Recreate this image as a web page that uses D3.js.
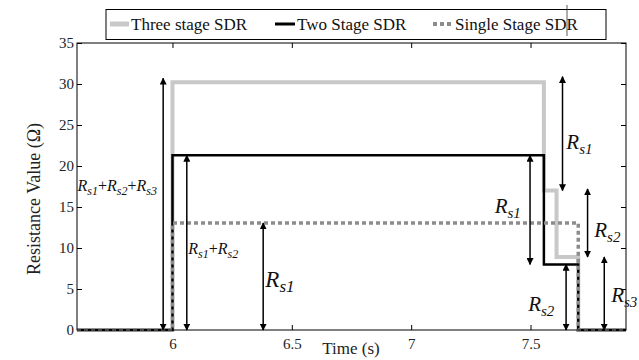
<!DOCTYPE html>
<html>
<head>
<meta charset="utf-8">
<script src="https://cdn.jsdelivr.net/npm/d3@7"></script>
<style>
  body { margin: 0; background: #fff; }
</style>
</head>
<body>
<div id="chart"></div>
<script>
// step series: [time, value] corners
var threeStage = [[5.6, 0], [6.0, 0], [6.0, 30.2], [7.556, 30.2], [7.556, 17.0], [7.609, 17.0], [7.609, 8.9], [7.7, 8.9], [7.7, 0], [7.9, 0]];
var twoStage = [[5.6, 0], [6.0, 0], [6.0, 21.3], [7.556, 21.3], [7.556, 8.0], [7.7, 8.0], [7.7, 0], [7.9, 0]];
var singleStage = [[5.6, 0], [6.0, 0], [6.0, 13.05], [7.7, 13.05], [7.7, 0], [7.9, 0]];

var xTicks = [6, 6.5, 7, 7.5];
var yTicks = [0, 5, 10, 15, 20, 25, 30, 35];
var legendNames = ["Three stage SDR", "Two Stage SDR", "Single Stage SDR"];

// annotation arrows: time, from, to
var arrows = [
  {t: 5.961, y0: 0, y1: 30.7},
  {t: 6.06, y0: 0, y1: 21.3},
  {t: 6.38, y0: 0, y1: 13.05},
  {t: 7.634, y0: 17.0, y1: 30.9},
  {t: 7.498, y0: 8.0, y1: 21.3},
  {t: 7.739, y0: 8.9, y1: 17.2},
  {t: 7.649, y0: 0, y1: 8.0},
  {t: 7.809, y0: 0, y1: 8.9}
];
// labels: time, value (baseline), subscript terms, size
var labels = [
  {t: 5.602, v: 17.0, terms: ["1", "2", "3"], size: 16},
  {t: 6.066, v: 9.3, terms: ["1", "2"], size: 16},
  {t: 6.389, v: 5.2, terms: ["1"], size: 23},
  {t: 7.65, v: 22.1, terms: ["1"], size: 21},
  {t: 7.35, v: 14.3, terms: ["1"], size: 21},
  {t: 7.767, v: 11.4, terms: ["2"], size: 21},
  {t: 7.49, v: 2.35, terms: ["2"], size: 21},
  {t: 7.838, v: 3.45, terms: ["3"], size: 21}
];

var FONT = "'Liberation Serif', 'Times New Roman', Times, 'DejaVu Serif', serif";

var svgWidth = 639, svgHeight = 360;
var margin = {top: 43, right: 13, bottom: 30, left: 77};
var width = svgWidth - margin.left - margin.right;
var height = svgHeight - margin.top - margin.bottom;

var svg = d3.select("#chart").append("svg")
  .attr("width", svgWidth)
  .attr("height", svgHeight)
  .style("font-family", FONT);

var chartGroup = svg.append("g")
  .attr("transform", `translate(${margin.left}, ${margin.top})`);

var xScale = d3.scaleLinear().domain([5.6, 7.9]).range([0, width]);
var yScale = d3.scaleLinear().domain([0, 35]).range([height, 0]);

// axes with inward ticks
var bottomAxis = d3.axisBottom(xScale).tickValues(xTicks).tickSize(-5).tickPadding(8).tickFormat(d3.format("~g"));
var topAxis = d3.axisTop(xScale).tickValues(xTicks).tickSize(-5).tickFormat("");
var leftAxis = d3.axisLeft(yScale).tickValues(yTicks).tickSize(-5).tickPadding(3);
var rightAxis = d3.axisRight(yScale).tickValues(yTicks).tickSize(-5).tickFormat("");

function styleAxis(g) {
  g.attr("font-family", null).attr("font-size", null);
  g.select(".domain").remove();
  g.selectAll(".tick line").attr("stroke", "#000");
  g.selectAll(".tick text").style("font-family", FONT).attr("font-size", 15).attr("fill", "#222");
}

chartGroup.append("g").attr("transform", `translate(0, ${height})`).call(bottomAxis).call(styleAxis);
chartGroup.append("g").call(topAxis).call(styleAxis);
chartGroup.append("g").call(leftAxis).call(styleAxis);
chartGroup.append("g").attr("transform", `translate(${width}, 0)`).call(rightAxis).call(styleAxis);

var line = d3.line().x(d => xScale(d[0])).y(d => yScale(d[1]));

chartGroup.append("path").datum(threeStage)
  .attr("d", line).attr("fill", "none")
  .attr("stroke", "#c8c8c8").attr("stroke-width", 4);
chartGroup.append("path").datum(twoStage)
  .attr("d", line).attr("fill", "none")
  .attr("stroke", "#000").attr("stroke-width", 2.5);
chartGroup.append("path").datum(singleStage)
  .attr("d", line).attr("fill", "none")
  .attr("stroke", "#8c8c8c").attr("stroke-width", 3.5)
  .attr("stroke-dasharray", "4,3");

// frame
chartGroup.append("rect")
  .attr("width", width).attr("height", height)
  .attr("fill", "none").attr("stroke", "#000").attr("stroke-width", 1);

// arrowheads
var defs = svg.append("defs");
defs.append("marker")
  .attr("id", "head")
  .attr("viewBox", "0 0 10 10")
  .attr("refX", 9).attr("refY", 5)
  .attr("markerWidth", 7).attr("markerHeight", 7)
  .attr("markerUnits", "userSpaceOnUse")
  .attr("orient", "auto-start-reverse")
  .append("path").attr("d", "M0,0 L10,5 L0,10 Z").attr("fill", "#000");

chartGroup.selectAll(".arrow")
  .data(arrows)
  .enter()
  .append("line")
  .attr("class", "arrow")
  .attr("x1", d => xScale(d.t)).attr("x2", d => xScale(d.t))
  .attr("y1", d => yScale(d.y0)).attr("y2", d => yScale(d.y1))
  .attr("stroke", "#000").attr("stroke-width", 1.5)
  .attr("marker-start", "url(#head)")
  .attr("marker-end", "url(#head)");

// R_s labels
labels.forEach(function(l) {
  var text = chartGroup.append("text")
    .attr("x", xScale(l.t))
    .attr("y", yScale(l.v))
    .attr("font-size", l.size)
    .attr("fill", "#111");
  var sub = Math.round(l.size * 0.72);
  var shift = Math.round(l.size * 0.22);
  l.terms.forEach(function(k, i) {
    if (i > 0) text.append("tspan").attr("dy", -shift).text("+");
    text.append("tspan").attr("font-style", "italic").text("R");
    text.append("tspan").attr("font-size", sub).attr("dy", shift)
      .attr("font-style", "italic").text("s" + k);
  });
});

// axis titles
svg.append("text")
  .attr("transform", "translate(40, 199) rotate(-90)")
  .attr("text-anchor", "middle")
  .attr("font-size", 18)
  .attr("fill", "#222")
  .text("Resistance Value (\u03a9)");

svg.append("text")
  .attr("x", 351).attr("y", 354)
  .attr("text-anchor", "middle")
  .attr("font-size", 17)
  .attr("fill", "#222")
  .text("Time (s)");

// legend
var legend = svg.append("g");
legend.append("rect")
  .attr("x", 106).attr("y", 9.5).attr("width", 500).attr("height", 30)
  .attr("fill", "#fff").attr("stroke", "#000").attr("stroke-width", 1);

var legendItems = [
  {x: 110, len: 19, color: "#c8c8c8", w: 5, dash: null},
  {x: 275, len: 20, color: "#000", w: 3, dash: null},
  {x: 433, len: 20, color: "#8c8c8c", w: 4, dash: "4,3"}
];
legendItems.forEach(function(it, i) {
  legend.append("line")
    .attr("x1", it.x).attr("x2", it.x + it.len)
    .attr("y1", 24).attr("y2", 24)
    .attr("stroke", it.color).attr("stroke-width", it.w)
    .attr("stroke-dasharray", it.dash);
  legend.append("text")
    .attr("x", it.x + it.len + 2).attr("y", 30)
    .attr("font-size", 17)
    .attr("fill", "#111")
    .text(legendNames[i]);
});

// stray cursor mark over the legend
svg.append("line")
  .attr("x1", 567).attr("x2", 567).attr("y1", 5).attr("y2", 36)
  .attr("stroke", "#333").attr("stroke-width", 0.8);
</script>
</body>
</html>
